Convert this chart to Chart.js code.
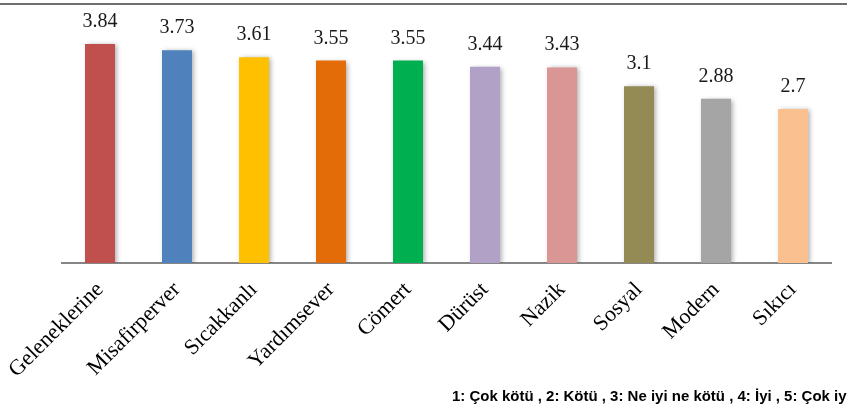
<!DOCTYPE html>
<html>
<head>
<meta charset="utf-8">
<script src="https://cdn.jsdelivr.net/npm/chart.js@4"></script>
<style>
  html, body { margin: 0; padding: 0; background: #fff; }
  #wrap { position: relative; width: 847px; height: 412px; overflow: hidden; }
  #topline { position: absolute; left: 0; top: 3px; width: 847px; height: 2px; background: #6e6e6e; }
  #note {
    position: absolute; left: 452px; top: 388px; white-space: nowrap;
    font: bold 14px "Liberation Sans", Arial, sans-serif; color: #000;
    transform: scaleX(1.07); transform-origin: left top;
  }
</style>
</head>
<body>
<div id="wrap">
  <canvas id="chartCanvas" width="847" height="412"></canvas>
  <div id="topline"></div>
  <div id="note">1: Çok kötü , 2: Kötü , 3: Ne iyi ne kötü , 4: İyi , 5: Çok iyi</div>
</div>
<script>
// Categories and scores
const categories = ["Geleneklerine", "Misafirperver", "Sıcakkanlı", "Yardımsever", "Cömert",
                    "Dürüst", "Nazik", "Sosyal", "Modern", "Sıkıcı"];
const scores = [3.84, 3.73, 3.61, 3.55, 3.55, 3.44, 3.43, 3.1, 2.88, 2.7];
const barColors = ["#C0504D", "#4F81BD", "#FFC000", "#E36C09", "#00B050",
                   "#B2A1C7", "#D99694", "#948A54", "#A5A5A5", "#FAC090"];

// Soft shadow behind the bars
const barShadow = {
    id: "barShadow",
    beforeDatasetDraw(chart) {
        const ctx = chart.ctx;
        ctx.save();
        ctx.shadowColor = "rgba(0,0,0,0.35)";
        ctx.shadowBlur = 5;
        ctx.shadowOffsetX = 2;
        ctx.shadowOffsetY = 1;
    },
    afterDatasetDraw(chart) {
        chart.ctx.restore();
    }
};

// Value labels above each bar
const valueLabels = {
    id: "valueLabels",
    afterDatasetsDraw(chart) {
        const ctx = chart.ctx;
        const meta = chart.getDatasetMeta(0);
        ctx.save();
        ctx.font = '20px "Liberation Serif", serif';
        ctx.fillStyle = "#1a1a1a";
        ctx.textAlign = "center";
        ctx.textBaseline = "alphabetic";
        meta.data.forEach((bar, i) => {
            ctx.fillText(String(scores[i]), bar.x, bar.y - 17);
        });
        ctx.restore();
    }
};

const ctx = document.getElementById("chartCanvas").getContext("2d");
new Chart(ctx, {
    type: "bar",
    data: {
        labels: categories,
        datasets: [{
            data: scores,
            backgroundColor: barColors,
            borderWidth: 0,
            barPercentage: 0.39,
            categoryPercentage: 1.0
        }]
    },
    options: {
        responsive: false,
        animation: false,
        layout: { padding: { left: 61.5, right: 15.5, top: 6.4, bottom: 0 } },
        plugins: {
            legend: { display: false },
            tooltip: { enabled: false }
        },
        scales: {
            x: {
                grid: { display: false, drawTicks: false },
                border: { display: true, color: "#868686", width: 2 },
                ticks: {
                    autoSkip: false,
                    minRotation: 45,
                    maxRotation: 45,
                    padding: 14,
                    color: "#000",
                    font: { family: '"Liberation Serif", serif', size: 22 }
                },
                afterFit(scale) {
                    scale.paddingLeft = 0;
                    scale.paddingRight = 0;
                    scale.height = 149;
                }
            },
            y: {
                display: false,
                min: 0,
                max: 4.5
            }
        }
    },
    plugins: [barShadow, valueLabels]
});
</script>
</body>
</html>
